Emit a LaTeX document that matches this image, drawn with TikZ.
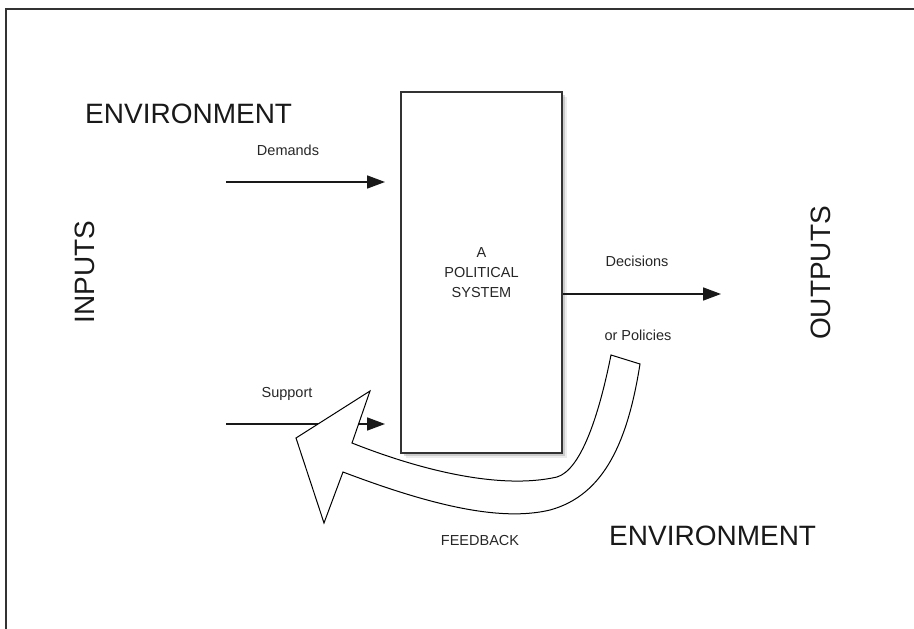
\documentclass[tikz,border=0pt]{standalone}
\usepackage{fontspec}
\setmainfont{Liberation Sans}
\usetikzlibrary{arrows.meta,shadows}
\begin{document}
\begin{tikzpicture}[x=1pt,y=-1pt,
 big/.style={font=\fontsize{28}{32}\selectfont, inner sep=0pt, text=black!90},
 small/.style={font=\fontsize{14.5}{20}\selectfont, inner sep=0pt, text=black!85},
 flow/.style={line width=1.6pt, draw=black!90, -{Triangle[length=18pt,width=13pt]}},
 sysbox/.style={draw=black!80, line width=1.3pt, fill=white, minimum width=161pt, minimum height=361pt, align=center, inner sep=0pt,
   drop shadow={shadow xshift=5pt, shadow yshift=-5pt, opacity=0.15},
   drop shadow={shadow xshift=3pt, shadow yshift=-3pt, opacity=0.3}},
 fback/.style={draw=black, line width=1pt, fill=white, line join=miter}]
\useasboundingbox (0,0) rectangle (914,629);
\draw[black!80, line width=1.8pt] (6,629) -- (6,9) -- (914,9);
\node[sysbox, small] (sys) at (481.5,272.5) {A\\POLITICAL\\SYSTEM};
\node[big, anchor=base west] (envtop) at (85,123) {ENVIRONMENT};
\node[small, anchor=base] (dem) at (288,155) {Demands};
\coordinate (demS) at (226,182);
\coordinate (demE) at (385,182);
\draw[flow] (demS) -- (demE);
\node[small, anchor=base] (sup) at (287,397) {Support};
\coordinate (supS) at (226,424);
\coordinate (supE) at (385,424);
\draw[flow] (supS) -- (supE);
\coordinate (decE) at (721,294);
\draw[flow] (sys.east |- decE) -- (decE);
\node[small, anchor=base] (dec) at (637,266) {Decisions};
\node[small, anchor=base] (pol) at (638,340) {or Policies};
\node[big, rotate=90] (inp) at (85,272) {INPUTS};
\node[big, rotate=90] (outp) at (821,273) {OUTPUTS};
\node[small, anchor=base] (fb) at (480,545) {FEEDBACK};
\node[big, anchor=base west] (envbot) at (609,545) {ENVIRONMENT};
\draw[fback] (611,355) -- (640,364) .. controls (628,440) and (605,495) .. (550,510)
  .. controls (500,522) and (430,505) .. (343,472) -- (324,523) -- (296,438) -- (370,391) -- (352,443)
  .. controls (420,470) and (500,490) .. (557,477) .. controls (580,470) and (598,420) .. (611,355) -- cycle;
\end{tikzpicture}
\end{document}
